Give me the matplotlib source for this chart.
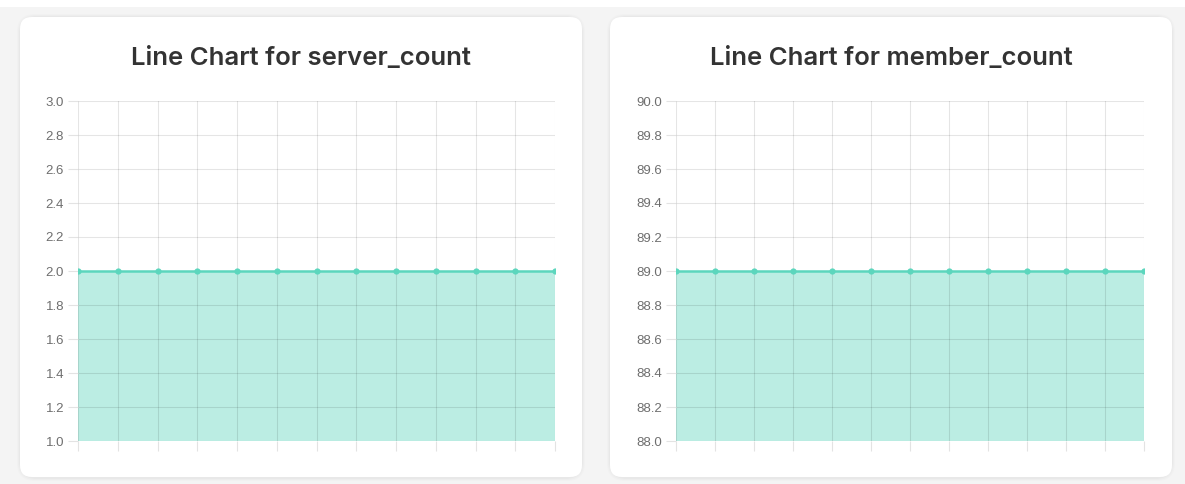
import matplotlib.pyplot as plt
from matplotlib.patches import FancyBboxPatch

# values per sample (13 samples, flat)
x_points = [0, 1, 2, 3, 4, 5, 6, 7, 8, 9, 10, 11, 12]
server_count = [2, 2, 2, 2, 2, 2, 2, 2, 2, 2, 2, 2, 2]
member_count = [89, 89, 89, 89, 89, 89, 89, 89, 89, 89, 89, 89, 89]

titles = ['Line Chart for server_count', 'Line Chart for member_count']
y_ranges = [(1.0, 3.0), (88.0, 90.0)]
y_ticks = [[1.0, 1.2, 1.4, 1.6, 1.8, 2.0, 2.2, 2.4, 2.6, 2.8, 3.0],
           [88.0, 88.2, 88.4, 88.6, 88.8, 89.0, 89.2, 89.4, 89.6, 89.8, 90.0]]

W, H = 1185, 484
fig = plt.figure(figsize=(W / 100, H / 100), dpi=100)
fig.patch.set_facecolor('#f4f4f4')

line_color = '#5cd6bd'
fill_color = '#bbede3'
grid_color = '#e3e3e3'
text_color = '#6e6e6e'


def fx(px):
    return px / W


def fy(py):
    return 1 - py / H


# top white strip
fig.add_artist(plt.Rectangle((0, fy(7)), 1, 7 / H, transform=fig.transFigure,
                             facecolor='white', edgecolor='none', zorder=0))

cards = [(20, 17, 582, 477), (610, 17, 1172, 477)]
axes_px = [(78, 101, 555, 441), (676, 101, 1144, 441)]

for (x0, y0, x1, y1) in cards:
    # soft shadow
    for i, a in enumerate([0.02, 0.015, 0.01]):
        s = FancyBboxPatch((fx(x0 - 1 - i), fy(y1 + 2 + i)), fx(x1 - x0 + 2 + 2 * i), (y1 - y0 + 3 + 2 * i) / H,
                           boxstyle='round,pad=0,rounding_size=0.015', transform=fig.transFigure,
                           facecolor='black', edgecolor='none', alpha=a, zorder=0.5,
                           mutation_aspect=W / H)
        fig.add_artist(s)
    card = FancyBboxPatch((fx(x0), fy(y1)), fx(x1 - x0), (y1 - y0) / H,
                          boxstyle='round,pad=0,rounding_size=0.01', transform=fig.transFigure,
                          facecolor='white', edgecolor='none', zorder=1,
                          mutation_aspect=W / H)
    fig.add_artist(card)

series = [server_count, member_count]
for k, (ax0, ay0, ax1, ay1) in enumerate(axes_px):
    ax = fig.add_axes([fx(ax0), fy(ay1), fx(ax1 - ax0), (ay1 - ay0) / H])
    ax.set_zorder(2)
    ax.patch.set_alpha(0)
    lo, hi = y_ranges[k]
    ax.fill_between(x_points, lo, series[k], color=fill_color, linewidth=0, zorder=1)
    ax.plot(x_points, series[k], color=line_color, linewidth=1.8, marker='o',
            markersize=4.5, markerfacecolor=line_color, markeredgewidth=0, zorder=3)
    ax.set_xlim(x_points[0], x_points[-1])
    ax.set_ylim(lo, hi)
    ax.set_yticks(y_ticks[k])
    ax.set_yticklabels([f'{v:.1f}' for v in y_ticks[k]], family='Liberation Sans')
    ax.set_xticks(x_points)
    ax.set_xticklabels([])
    # translucent grid so it shows darker over the fill
    ax.grid(True, color='black', alpha=0.1, linewidth=0.8, zorder=2)
    ax.set_axisbelow(False)
    for sp in ax.spines.values():
        sp.set_visible(False)
    ax.tick_params(axis='both', colors=grid_color, labelcolor=text_color,
                   labelsize=9.5, length=7, width=0.8, pad=3)
    cx = (cards[k][0] + cards[k][2]) / 2
    fig.text(fx(cx), fy(58), titles[k], ha='center', va='center',
             fontsize=18.5, fontweight='semibold', family='Inter', color='#333333', zorder=3)

fig.savefig('out.png', dpi=100, facecolor=fig.get_facecolor())
